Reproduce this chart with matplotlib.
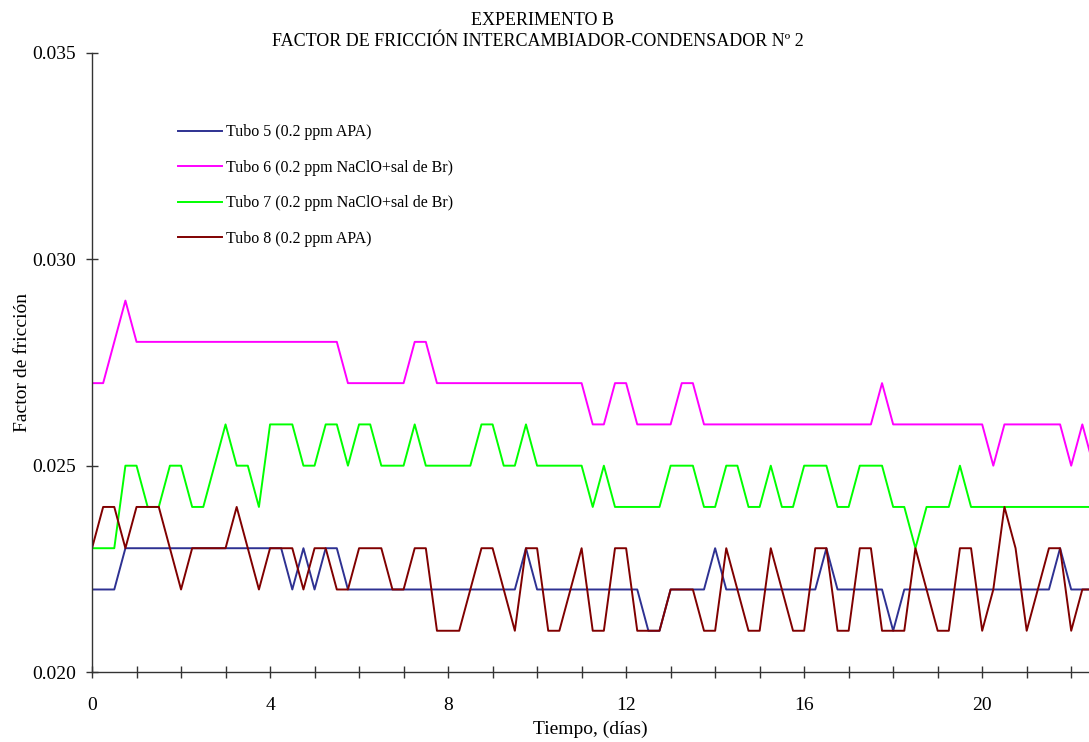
import numpy as np
import matplotlib
matplotlib.use("Agg")
import matplotlib.pyplot as plt

plt.rcParams["font.family"] = ["Liberation Serif", "DejaVu Serif"]

# Sampling every 6 hours (0.25 days)
dias = np.arange(91) * 0.25

tubo5 = [0.022, 0.022, 0.022, 0.023, 0.023, 0.023, 0.023, 0.023, 0.023, 0.023,
         0.023, 0.023, 0.023, 0.023, 0.023, 0.023, 0.023, 0.023, 0.022, 0.023,
         0.022, 0.023, 0.023, 0.022, 0.022, 0.022, 0.022, 0.022, 0.022, 0.022,
         0.022, 0.022, 0.022, 0.022, 0.022, 0.022, 0.022, 0.022, 0.022, 0.023,
         0.022, 0.022, 0.022, 0.022, 0.022, 0.022, 0.022, 0.022, 0.022, 0.022,
         0.021, 0.021, 0.022, 0.022, 0.022, 0.022, 0.023, 0.022, 0.022, 0.022,
         0.022, 0.022, 0.022, 0.022, 0.022, 0.022, 0.023, 0.022, 0.022, 0.022,
         0.022, 0.022, 0.021, 0.022, 0.022, 0.022, 0.022, 0.022, 0.022, 0.022,
         0.022, 0.022, 0.022, 0.022, 0.022, 0.022, 0.022, 0.023, 0.022, 0.022,
         0.022]

tubo6 = [0.027, 0.027, 0.028, 0.029, 0.028, 0.028, 0.028, 0.028, 0.028, 0.028,
         0.028, 0.028, 0.028, 0.028, 0.028, 0.028, 0.028, 0.028, 0.028, 0.028,
         0.028, 0.028, 0.028, 0.027, 0.027, 0.027, 0.027, 0.027, 0.027, 0.028,
         0.028, 0.027, 0.027, 0.027, 0.027, 0.027, 0.027, 0.027, 0.027, 0.027,
         0.027, 0.027, 0.027, 0.027, 0.027, 0.026, 0.026, 0.027, 0.027, 0.026,
         0.026, 0.026, 0.026, 0.027, 0.027, 0.026, 0.026, 0.026, 0.026, 0.026,
         0.026, 0.026, 0.026, 0.026, 0.026, 0.026, 0.026, 0.026, 0.026, 0.026,
         0.026, 0.027, 0.026, 0.026, 0.026, 0.026, 0.026, 0.026, 0.026, 0.026,
         0.026, 0.025, 0.026, 0.026, 0.026, 0.026, 0.026, 0.026, 0.025, 0.026,
         0.025]

tubo7 = [0.023, 0.023, 0.023, 0.025, 0.025, 0.024, 0.024, 0.025, 0.025, 0.024,
         0.024, 0.025, 0.026, 0.025, 0.025, 0.024, 0.026, 0.026, 0.026, 0.025,
         0.025, 0.026, 0.026, 0.025, 0.026, 0.026, 0.025, 0.025, 0.025, 0.026,
         0.025, 0.025, 0.025, 0.025, 0.025, 0.026, 0.026, 0.025, 0.025, 0.026,
         0.025, 0.025, 0.025, 0.025, 0.025, 0.024, 0.025, 0.024, 0.024, 0.024,
         0.024, 0.024, 0.025, 0.025, 0.025, 0.024, 0.024, 0.025, 0.025, 0.024,
         0.024, 0.025, 0.024, 0.024, 0.025, 0.025, 0.025, 0.024, 0.024, 0.025,
         0.025, 0.025, 0.024, 0.024, 0.023, 0.024, 0.024, 0.024, 0.025, 0.024,
         0.024, 0.024, 0.024, 0.024, 0.024, 0.024, 0.024, 0.024, 0.024, 0.024,
         0.024]

tubo8 = [0.023, 0.024, 0.024, 0.023, 0.024, 0.024, 0.024, 0.023, 0.022, 0.023,
         0.023, 0.023, 0.023, 0.024, 0.023, 0.022, 0.023, 0.023, 0.023, 0.022,
         0.023, 0.023, 0.022, 0.022, 0.023, 0.023, 0.023, 0.022, 0.022, 0.023,
         0.023, 0.021, 0.021, 0.021, 0.022, 0.023, 0.023, 0.022, 0.021, 0.023,
         0.023, 0.021, 0.021, 0.022, 0.023, 0.021, 0.021, 0.023, 0.023, 0.021,
         0.021, 0.021, 0.022, 0.022, 0.022, 0.021, 0.021, 0.023, 0.022, 0.021,
         0.021, 0.023, 0.022, 0.021, 0.021, 0.023, 0.023, 0.021, 0.021, 0.023,
         0.023, 0.021, 0.021, 0.021, 0.023, 0.022, 0.021, 0.021, 0.023, 0.023,
         0.021, 0.022, 0.024, 0.023, 0.021, 0.022, 0.023, 0.023, 0.021, 0.022,
         0.022]

etiquetas = ["Tubo 5 (0.2 ppm APA)",
             "Tubo 6 (0.2 ppm NaClO+sal de Br)",
             "Tubo 7 (0.2 ppm NaClO+sal de Br)",
             "Tubo 8 (0.2 ppm APA)"]
colores = ["#2e3192", "#ff00ff", "#00ff00", "#800000"]

fig = plt.figure(figsize=(10.89, 7.42), dpi=100)
ax = fig.add_axes([0.0845, 0.0943, 1.0 - 0.0845, 0.9286 - 0.0943])

for serie, etiqueta, color in zip([tubo5, tubo6, tubo7, tubo8], etiquetas, colores):
    ax.plot(dias, serie, color=color, lw=1.4, label=etiqueta, clip_on=True)

ax.set_xlim(0, 22.4)
ax.set_ylim(0.020, 0.035)
ax.set_xticks([0, 4, 8, 12, 16, 20])
ax.set_xticks(np.arange(0, 23, 1), minor=True)
ax.set_yticks([0.020, 0.025, 0.030, 0.035])
ax.set_yticklabels(["0.020", "0.025", "0.030", "0.035"])

for s in ["top", "right"]:
    ax.spines[s].set_visible(False)
for s in ["left", "bottom"]:
    ax.spines[s].set_color("#333333")
    ax.spines[s].set_linewidth(1.0)

ax.tick_params(axis="both", which="both", direction="inout", color="#333333",
               width=1.0, labelsize=14)
ax.tick_params(axis="both", which="major", length=9)
ax.tick_params(axis="y", which="major", pad=7)
ax.tick_params(axis="x", which="major", pad=13.5)
ax.tick_params(axis="x", which="minor", length=9)

ax.set_xlabel("Tiempo, (días)", fontsize=14, labelpad=5)
ax.set_ylabel("Factor de fricción", fontsize=14, labelpad=1)

fig.text(0.498, 0.973, "EXPERIMENTO B", ha="center", va="center", fontsize=13)
fig.text(0.494, 0.944, "FACTOR DE FRICCIÓN INTERCAMBIADOR-CONDENSADOR Nº 2",
         ha="center", va="center", fontsize=13)

ax.legend(loc="upper left", bbox_to_anchor=(0.0863, 0.885), frameon=False,
          fontsize=11.5, handlelength=2.75, handletextpad=0.25,
          labelspacing=1.22, borderaxespad=0, borderpad=0)

fig.savefig("out.png", dpi=100)
